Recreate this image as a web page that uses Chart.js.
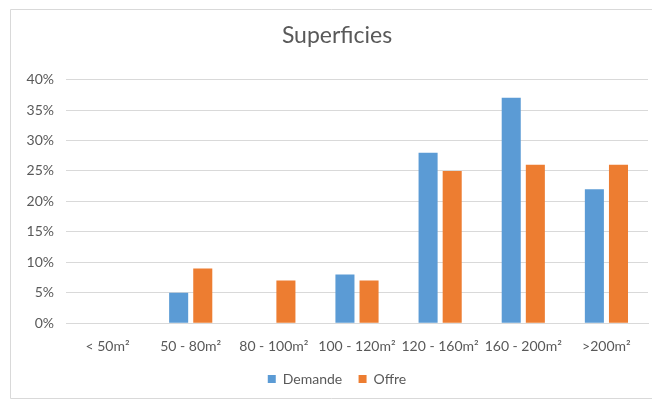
<!DOCTYPE html>
<html>
<head>
<meta charset="utf-8">
<script src="https://cdn.jsdelivr.net/npm/chart.js@4/dist/chart.umd.min.js"></script>
<style>
  html, body { margin: 0; padding: 0; background: #ffffff; }
  #wrap { position: absolute; left: 0; top: 0; width: 652px; height: 400px; }
</style>
</head>
<body>
<div id="wrap"><canvas id="chart" width="652" height="400"></canvas></div>
<script>
// Surface ranges and shares of demand vs. supply (percent)
const categories = ['< 50m²', '50 - 80m²', '80 - 100m²', '100 - 120m²', '120 - 160m²', '160 - 200m²', '>200m²'];
const demande = [0, 5, 0, 8, 28, 37, 22];
const offre = [0, 9, 7, 7, 25, 26, 26];
const yTicks = [0, 5, 10, 15, 20, 25, 30, 35, 40];

const FONT = 'Lato, "Open Sans", sans-serif';
const TEXT = '#595959';

// Thin light frame around the chart
const framePlugin = {
  id: 'frame',
  beforeDraw(chart) {
    const ctx = chart.ctx;
    ctx.save();
    ctx.strokeStyle = '#d9d9d9';
    ctx.lineWidth = 1;
    ctx.beginPath();
    ctx.moveTo(660, 9.5);
    ctx.lineTo(10.5, 9.5);
    ctx.lineTo(10.5, 398.5);
    ctx.lineTo(660, 398.5);
    ctx.stroke();
    ctx.restore();
  }
};

new Chart(document.getElementById('chart'), {
  type: 'bar',
  data: {
    labels: categories,
    datasets: [
      { label: 'Demande', data: demande, backgroundColor: '#5b9bd5' },
      { label: 'Offre', data: offre, backgroundColor: '#ed7d31' }
    ]
  },
  options: {
    responsive: false,
    animation: false,
    devicePixelRatio: 1,
    datasets: { bar: { categoryPercentage: 0.58, barPercentage: 0.79 } },
    layout: { padding: { left: 26, right: 4, top: 0, bottom: 4 } },
    plugins: {
      title: {
        display: true,
        text: 'Superficies',
        color: TEXT,
        font: { family: FONT, size: 23, weight: 'normal' },
        padding: { top: 22, bottom: 30 }
      },
      legend: {
        position: 'bottom',
        labels: {
          color: TEXT,
          font: { family: FONT, size: 14 },
          boxWidth: 8,
          boxHeight: 8,
          padding: 2,
          // keep the row compact vertically but leave room between the two entries
          generateLabels(chart) {
            const items = Chart.defaults.plugins.legend.labels.generateLabels(chart);
            items.forEach((it, i) => {
              if (i < items.length - 1) it.text = it.text + '\u00a0\u00a0\u00a0\u00a0';
            });
            return items;
          }
        }
      },
      tooltip: { enabled: false }
    },
    scales: {
      x: {
        grid: { display: false, drawTicks: false },
        border: { display: true, color: '#d9d9d9' },
        ticks: { color: TEXT, font: { family: FONT, size: 14 }, maxRotation: 0, autoSkip: false, padding: 15 }
      },
      y: {
        min: 0,
        max: 40,
        afterBuildTicks(axis) { axis.ticks = yTicks.map(v => ({ value: v })); },
        afterFit(axis) { axis.width = 40; },
        grid: { color: '#d9d9d9', drawTicks: false },
        border: { display: false },
        ticks: {
          color: TEXT,
          font: { family: FONT, size: 14 },
          padding: 12,
          callback: v => v + '%'
        }
      }
    }
  },
  plugins: [framePlugin]
});
</script>
</body>
</html>
